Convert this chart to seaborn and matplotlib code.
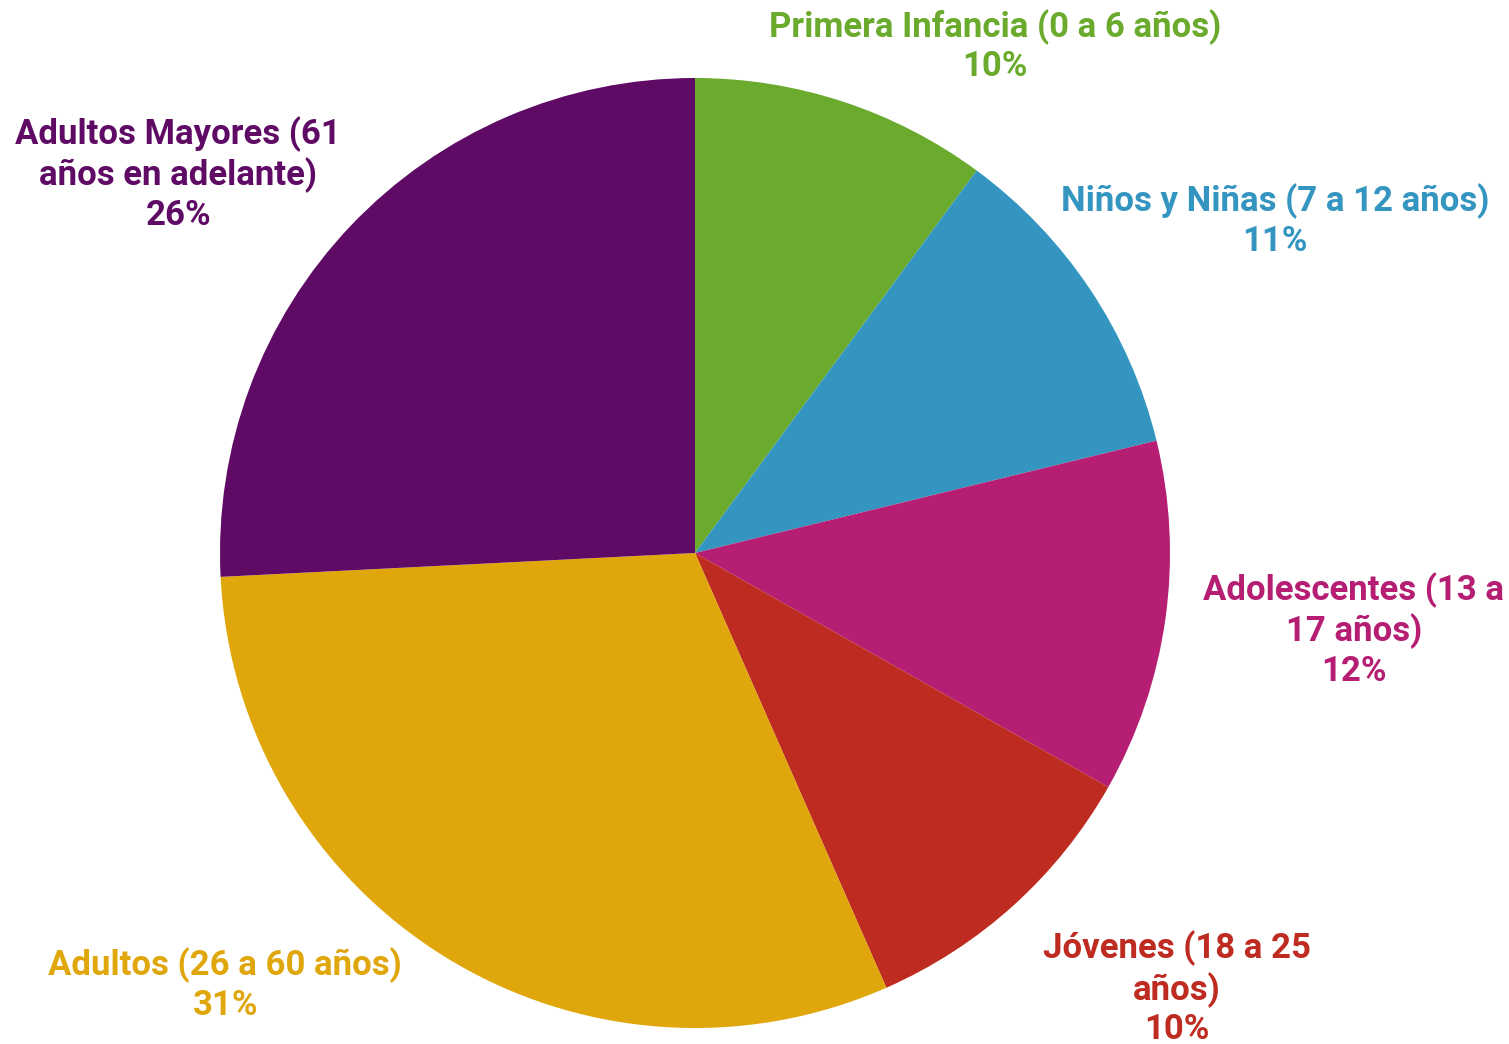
import numpy as np
import matplotlib.pyplot as plt
import seaborn as sns

sns.set_theme(style="white")
plt.rcParams['font.family'] = ['Roboto', 'DejaVu Sans']

# slice data (percent), clockwise from 12 o'clock
grupos = [
    "Primera Infancia (0 a 6 años)",
    "Niños y Niñas (7 a 12 años)",
    "Adolescentes (13 a\n17 años)",
    "Jóvenes (18 a 25\naños)",
    "Adultos (26 a 60 años)",
    "Adultos Mayores (61\naños en adelante)",
]
porcentajes = [10.1, 11.1, 12.0, 10.2, 30.8, 25.8]
colores = ["#6aaa2c", "#3496c0", "#b51e72", "#be2b20", "#e0a70c", "#5f0b66"]

# label centres in units of the pie radius
label_pos = [(0.632, 1.067), (1.221, 0.699), (1.387, -0.162),
             (1.015, -0.916), (-0.989, -0.909), (-1.088, 0.798)]

fig = plt.figure(figsize=(15.09, 10.44), dpi=100)
ax = fig.add_axes([0, 0, 1, 1])
ax.pie(porcentajes, colors=colores, startangle=90, counterclock=False,
       radius=1, wedgeprops={"linewidth": 0})
ax.set_aspect("auto")
ax.set_xlim(-695 / 475, (1509 - 695) / 475)
ax.set_ylim(-(1044 - 553) / 475, 553 / 475)
ax.axis("off")

total = sum(porcentajes)
for name, val, col, (x, y) in zip(grupos, porcentajes, colores, label_pos):
    ax.text(x, y, f"{name}\n{round(val / total * 100)}%", color=col,
            fontsize=25, fontweight="bold", ha="center", va="center",
            linespacing=1.22, multialignment="center")

fig.savefig("out.png", dpi=100)
